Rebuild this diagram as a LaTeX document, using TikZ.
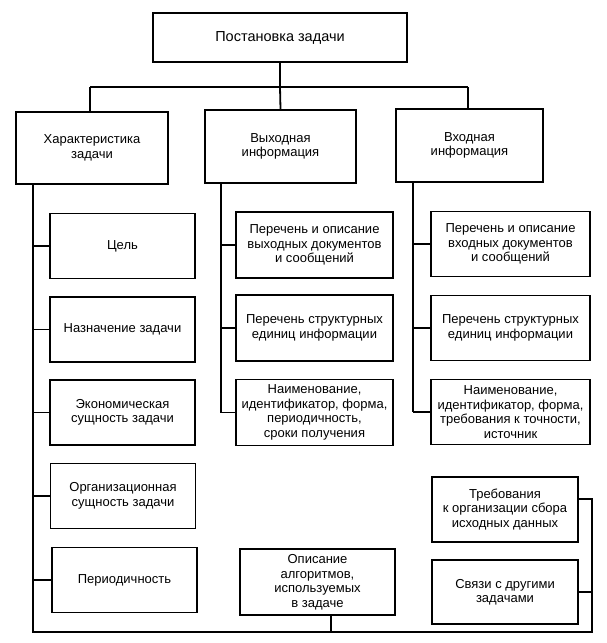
\documentclass[tikz,border=0pt]{standalone}
\usepackage{fontspec}
\setmainfont{Liberation Sans}
\usetikzlibrary{calc}
\begin{document}
\begin{tikzpicture}[x=1pt,y=-1pt,
  box/.style={draw=black, line width=1.8pt, align=center,
    font=\fontsize{13}{14.5}\selectfont, inner sep=2pt},
  ln/.style={draw=black, line width=1.8pt},
  lbox/.style={box, minimum width=145pt, minimum height=65pt},
  mbox/.style={box, minimum width=157pt, minimum height=66pt},
  rbox/.style={box, minimum width=159pt, minimum height=65pt}]
\useasboundingbox[fill=white] (0,0) rectangle (606,643);

% top level
\node[box, minimum width=254pt, minimum height=49pt,
  font=\fontsize{14.5}{16}\selectfont] (top) at (280,37.5) {Постановка задачи};

% second level
\node[box, minimum width=152pt, minimum height=72pt] (char) at (92,148) {Характеристика\\задачи};
\node[box, minimum width=151pt, minimum height=73pt] (out) at (280.5,146.5) {Выходная\\информация};
\node[box, minimum width=147pt, minimum height=73pt] (inp) at (469.5,145.5) {Входная\\информация};

% left column
\node[lbox] (goal) at (122.5,246) {Цель};
\node[lbox] (purp) at (122.5,329.5) {Назначение задачи};
\node[lbox] (econ) at (122.5,412.5) {Экономическая\\сущность задачи};
\node[lbox] (org)  at (123,496) {Организационная\\сущность задачи};
\node[lbox] (per)  at (124.5,580) {Периодичность};

% middle column
\node[mbox] (mo1) at (314.5,245) {Перечень и описание\\выходных документов\\и сообщений};
\node[mbox] (mo2) at (314.5,328) {Перечень структурных\\единиц информации};
\node[mbox] (mo3) at (314.5,412.5) {Наименование,\\идентификатор, форма,\\периодичность,\\сроки получения};
\node[box, minimum width=155pt, minimum height=66pt] (alg) at (317.5,582) {Описание\\алгоритмов,\\используемых\\в задаче};

% right column
\node[rbox] (ri1) at (510.5,244) {Перечень и описание\\входных документов\\и сообщений};
\node[rbox] (ri2) at (510.5,328) {Перечень структурных\\единиц информации};
\node[rbox] (ri3) at (510.5,412) {Наименование,\\идентификатор, форма,\\требования к точности,\\источник};
\node[box, minimum width=146pt, minimum height=65pt] (req) at (505,509.5) {Требования\\к организации сбора\\исходных данных};
\node[box, minimum width=146pt, minimum height=64pt] (link) at (505,592) {Связи с другими\\задачами};

% helper coordinates
\coordinate (bus) at (280,87);
\coordinate (ls) at (33,184);
\coordinate (lb) at (33,632);
\coordinate (ms) at (221,183);
\coordinate (rs) at (413,182);
\coordinate (rb) at (592,632);
\coordinate (reqc) at (592,499);
\coordinate (algb) at (331,615);

% top connectors
\draw[ln] (top.south) -- (bus);
\draw[ln] (bus -| 90,0) -- (bus -| 468,0);
\draw[ln] (bus -| 90,0) -- (90,112);
\draw[ln] (bus) -- (out.north);
\draw[ln] (bus -| 468,0) -- (468,109);

% left spine and bottom bus
\draw[ln] (ls) -- (lb) -- (rb) -- (reqc) -- (reqc -| req.east);
\foreach \n in {goal,purp,econ,org,per} \draw[ln] (\n.west) -- (\n.west -| ls);
\draw[ln] (link.east) -- (link.east -| rb);
\draw[ln] (algb) -- (algb |- lb);

% middle spine
\draw[ln] (ms) -- (ms |- mo3.west);
\foreach \n in {mo1,mo2,mo3} \draw[ln] (\n.west) -- (\n.west -| ms);

% right spine
\draw[ln] (rs) -- (rs |- ri3.west);
\foreach \n in {ri1,ri2,ri3} \draw[ln] (\n.west) -- (\n.west -| rs);
\end{tikzpicture}
\end{document}
